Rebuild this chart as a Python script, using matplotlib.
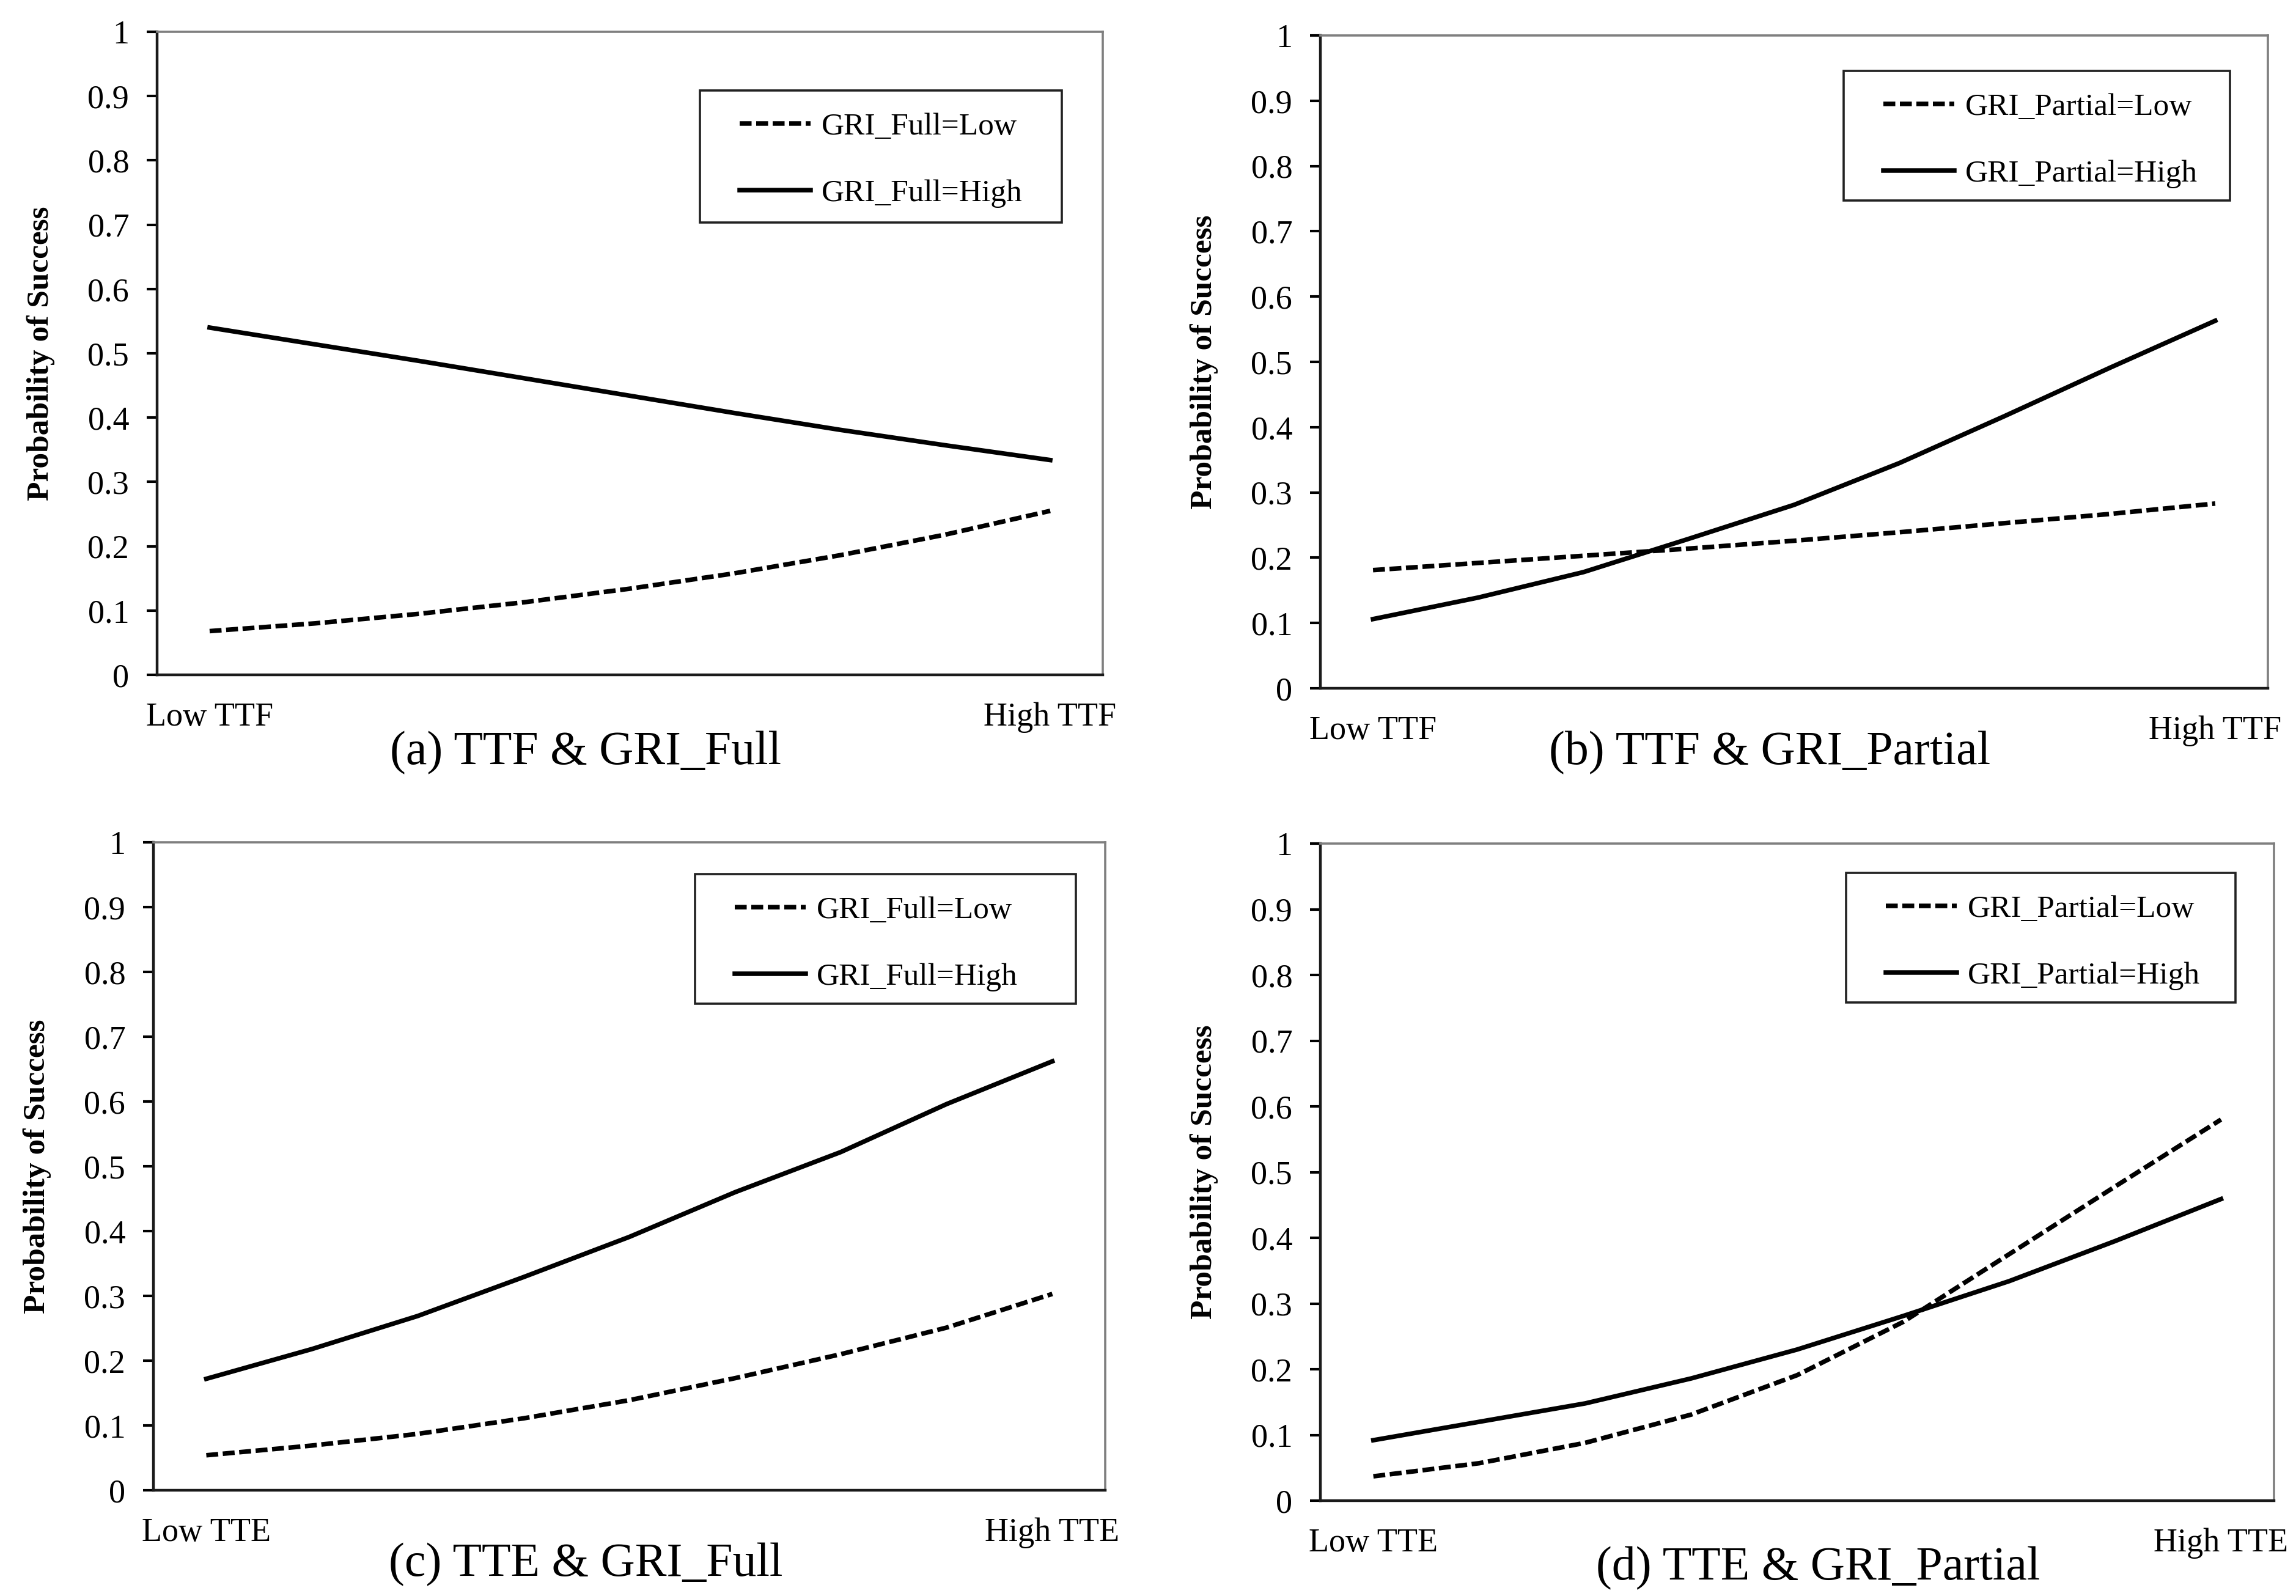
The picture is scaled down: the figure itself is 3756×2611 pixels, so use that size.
import numpy as np
import matplotlib.pyplot as plt
from matplotlib.patches import Rectangle

plt.rcParams['font.family'] = ['Liberation Serif', 'DejaVu Serif']

W, H = 3756, 2611

# x positions of the 9 points between Low and High
x_points = np.arange(9)

# (a) TTF & GRI_Full
a_low = [0.068, 0.080, 0.095, 0.113, 0.134, 0.158, 0.186, 0.218, 0.255]
a_high = [0.540, 0.514, 0.488, 0.461, 0.434, 0.407, 0.381, 0.357, 0.334]
# (b) TTF & GRI_Partial
b_low = [0.181, 0.192, 0.203, 0.214, 0.226, 0.239, 0.253, 0.267, 0.283]
b_high = [0.106, 0.139, 0.178, 0.229, 0.281, 0.345, 0.417, 0.491, 0.563]
# (c) TTE & GRI_Full
c_low = [0.054, 0.069, 0.087, 0.111, 0.139, 0.173, 0.210, 0.251, 0.303]
c_high = [0.172, 0.218, 0.269, 0.329, 0.391, 0.460, 0.522, 0.596, 0.662]
# (d) TTE & GRI_Partial
d_low = [0.037, 0.057, 0.088, 0.131, 0.191, 0.272, 0.375, 0.478, 0.580]
d_high = [0.092, 0.120, 0.148, 0.186, 0.230, 0.281, 0.334, 0.395, 0.459]

low_series = [a_low, b_low, c_low, d_low]
high_series = [a_high, b_high, c_high, d_high]
x_vars = ['TTF', 'TTF', 'TTE', 'TTE']
gri_names = ['GRI_Full', 'GRI_Partial', 'GRI_Full', 'GRI_Partial']
titles = ['(a) TTF & GRI_Full', '(b) TTF & GRI_Partial',
          '(c) TTE & GRI_Full', '(d) TTE & GRI_Partial']
y_ticks = [0, 0.1, 0.2, 0.3, 0.4, 0.5, 0.6, 0.7, 0.8, 0.9, 1]
y_tick_labels = ['0', '0.1', '0.2', '0.3', '0.4', '0.5', '0.6', '0.7', '0.8', '0.9', '1']

# layout in pixels (x0, y0, x1, y1), measured from the top-left
axes_px = [(257, 52, 1804, 1104), (2160, 58, 3710, 1126),
           (251, 1378, 1808, 2438), (2160, 1380, 3720, 2455)]
legend_px = [(1145, 148, 1737, 364), (3016, 116, 3648, 328),
             (1137, 1430, 1760, 1642), (3020, 1428, 3657, 1640)]
title_px = [(958, 1250), (2895, 1250), (958, 2578), (2974, 2584)]


def px_rect(x0, y0, x1, y1):
    return [x0 / W, 1 - y1 / H, (x1 - x0) / W, (y1 - y0) / H]


fig = plt.figure(figsize=(W / 100, H / 100), dpi=100)

for i in range(4):
    x0, y0, x1, y1 = axes_px[i]
    ax = fig.add_axes(px_rect(x0, y0, x1, y1))

    l1, = ax.plot(x_points, low_series[i], color='black', lw=5.4,
                  dashes=(2.6, 1.0), label=gri_names[i] + '=Low')
    l2, = ax.plot(x_points, high_series[i], color='black', lw=5.4,
                  label=gri_names[i] + '=High')

    ax.set_xlim(-0.5, 8.5)
    ax.set_ylim(0, 1)
    ax.set_yticks(y_ticks)
    ax.set_yticklabels(y_tick_labels)
    ax.set_xticks([0, 8])
    ax.set_xticklabels(['Low ' + x_vars[i], 'High ' + x_vars[i]])
    ax.tick_params(axis='y', direction='out', length=12, width=3, pad=21,
                   labelsize=39, colors='black')
    ax.tick_params(axis='x', length=0, pad=32, labelsize=39)

    for s in ['left', 'bottom']:
        ax.spines[s].set_linewidth(3.2)
        ax.spines[s].set_color('#1a1a1a')
    for s in ['top', 'right']:
        ax.spines[s].set_linewidth(2.6)
        ax.spines[s].set_color('#7f7f7f')

    # label sits about 167 px left of the y axis
    ax.set_ylabel('Probability of Success', fontsize=37, fontweight='bold')
    ax.yaxis.set_label_coords(-167 / (x1 - x0), 0.5)

    # legend box
    lx0, ly0, lx1, ly1 = legend_px[i]
    fig.add_artist(Rectangle((lx0 / W, 1 - ly1 / H), (lx1 - lx0) / W, (ly1 - ly0) / H,
                             transform=fig.transFigure, fill=False,
                             ec='#222222', lw=2.6))
    ax.legend(handles=[l1, l2], frameon=False, loc='center left',
              bbox_to_anchor=((lx0 + 65) / W, 1 - (ly0 + 114) / H),
              bbox_transform=fig.transFigure, borderpad=0, borderaxespad=0,
              handlelength=2.26, handletextpad=0.35, labelspacing=1.22,
              fontsize=37)

    tx, ty = title_px[i]
    fig.text(tx / W, 1 - ty / H, titles[i], ha='center', va='baseline', fontsize=56)

fig.savefig('out.png', dpi=100)
